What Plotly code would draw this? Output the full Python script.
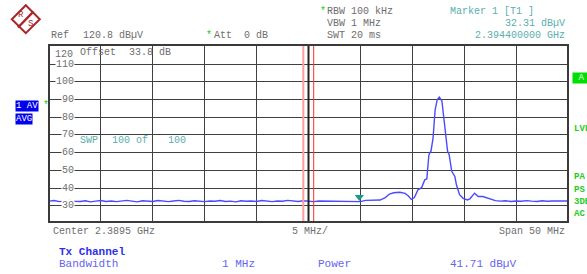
import plotly.graph_objects as go

# ---------------- data ----------------
floor_left_mhz = [2364.5, 2365.0, 2365.5, 2366.0, 2366.5, 2367.0, 2367.5, 2368.0, 2368.5, 2369.0,
                  2369.5, 2370.0, 2370.5, 2371.0, 2371.5, 2372.0, 2372.5, 2373.0, 2373.5, 2374.0,
                  2374.5, 2375.0, 2375.5, 2376.0, 2376.5, 2377.0, 2377.5, 2378.0, 2378.5, 2379.0,
                  2379.5, 2380.0, 2380.5, 2381.0, 2381.5, 2382.0, 2382.5, 2383.0, 2383.5, 2384.0,
                  2384.5, 2385.0, 2385.5, 2386.0, 2386.5, 2387.0, 2387.5, 2388.0, 2388.5, 2389.0,
                  2389.5, 2390.0, 2390.5, 2391.0, 2391.5, 2392.0, 2392.5, 2393.0, 2393.5, 2394.0,
                  2394.5, 2395.0, 2395.5, 2396.0]
floor_left_dbuv = [32.6, 32.9, 32.3, 32.7, 33.0, 32.5, 32.4, 32.8, 32.2, 32.6,
                   32.9, 32.4, 32.7, 32.3, 32.5, 33.0, 32.6, 32.2, 32.8, 32.5,
                   32.4, 32.9, 32.6, 32.3, 32.7, 33.0, 32.5, 32.4, 32.8, 32.6,
                   32.3, 32.7, 32.5, 32.9, 32.4, 32.6, 32.2, 32.8, 32.5, 32.7,
                   32.4, 32.9, 32.6, 32.3, 32.7, 32.5, 33.0, 32.6, 32.4, 32.8,
                   32.5, 32.3, 32.7, 32.6, 32.9, 32.4, 32.7, 32.5, 32.3, 32.4,
                   32.3, 33.0, 33.1, 33.2]

signal_mhz = [2396.4, 2396.9, 2397.3, 2397.7, 2398.3, 2398.8, 2399.1, 2399.4, 2399.7, 2400.05,
              2400.4, 2400.7, 2400.9, 2401.1, 2401.3, 2401.5, 2401.7, 2401.9, 2402.1, 2402.35,
              2402.6, 2402.9, 2403.05, 2403.3, 2403.6, 2403.75, 2404.05, 2404.4, 2404.8, 2405.05,
              2405.5, 2405.85, 2406.3, 2406.8, 2407.2]
signal_dbuv = [33.2, 34.6, 36.6, 37.3, 37.6, 37.0, 35.6, 33.6, 34.6, 39.0,
               40.3, 44.6, 45.2, 58.8, 60.8, 68.2, 84.2, 89.9, 91.3, 89.3,
               75.7, 60.7, 58.8, 49.4, 46.5, 41.8, 36.2, 34.2, 33.3, 33.9,
               37.1, 35.2, 35.2, 34.3, 33.3]

floor_right_mhz = [2407.5, 2408.0, 2408.5, 2409.0, 2409.5, 2410.0, 2410.5, 2411.0,
                   2411.5, 2412.0, 2412.5, 2413.0, 2413.5, 2414.0, 2414.5]
floor_right_dbuv = [32.9, 32.6, 32.8, 32.4, 32.7, 32.5, 32.9, 32.6,
                    32.4, 32.8, 32.5, 32.7, 32.6, 32.4, 32.7]

marker_mhz = [2394.4]
marker_dbuv = [32.31]

freq_start, freq_stop = 2364.5, 2414.5
ref_level, bottom_level = 120.8, 20.8
grid_freqs = [2369.5, 2374.5, 2379.5, 2384.5, 2389.5, 2394.5, 2399.5, 2404.5, 2409.5]
grid_levels = [30, 40, 50, 60, 70, 80, 90, 100, 110]
level_labels = ["30", "40", "50", "60", "70", "80", "90", "100", "110"]
channel_edges = [2389.0, 2390.0]

freq = floor_left_mhz + signal_mhz + floor_right_mhz
level = floor_left_dbuv + signal_dbuv + floor_right_dbuv

# ---------------- geometry helpers ----------------
W, H = 587, 274
L, R, T, B = 49, 568, 45, 222


def px(x):
    return (x - L) / (R - L)


def py(y):
    return (B - y) / (B - T)


MONO = "Liberation Mono"
GRAY = "#6e6e6e"
TEAL = "#5aaeae"
GREEN = "#22cc22"
BLUE1 = "#2f2fe8"
BLUE2 = "#6464f4"

fig = go.Figure()
fig.add_trace(go.Scatter(x=freq, y=level, mode="lines",
                         line=dict(color="#4a4aff", width=1.4),
                         hoverinfo="skip", showlegend=False))
fig.add_trace(go.Scatter(x=marker_mhz, y=[v + 2.6 for v in marker_dbuv], mode="markers",
                         marker=dict(symbol="triangle-down", size=8, color="#1a9a8a"),
                         hoverinfo="skip", showlegend=False))

annotations = []


def ann(x, y, text, color=GRAY, size=10, anchor="left", bg=None, yref_data=False):
    d = dict(x=px(x), y=(y if yref_data else py(y)), xref="paper",
             yref=("y" if yref_data else "paper"),
             text=text, showarrow=False, xanchor=anchor, yanchor="middle",
             font=dict(family=MONO, size=size, color=color), borderpad=0)
    if bg:
        d["bgcolor"] = bg
    annotations.append(d)


# top header
ann(50, 35.5, "Ref")
ann(82, 35.5, "120.8 dBµV")
ann(205, 35, "*", color=GREEN)
ann(213, 35.5, "Att")
ann(243, 35.5, "0 dB")
ann(319, 11, "*", color=GREEN)
ann(326, 11.3, "RBW 100 kHz")
ann(326, 23.7, "VBW 1 MHz")
ann(326, 35.7, "SWT 20 ms")
ann(449, 11.3, "Marker 1 [T1 ]", color=TEAL)
ann(566, 23.7, "32.31 dBµV", color=TEAL, anchor="right")
ann(566, 35.7, "2.394400000 GHz", color=TEAL, anchor="right")

# inside plot
ann(74, 54.5, "120", anchor="right")
ann(79, 52.7, "Offset")
ann(128, 52.7, "33.8 dB")
ann(79, 140.7, "SWP", color=TEAL)
ann(111, 140.7, "100 of", color=TEAL)
ann(167, 140.7, "100", color=TEAL)
for v, t in zip(grid_levels, level_labels):
    ann(75, v, t, anchor="right", bg="white", yref_data=True)

# left side boxes
ann(14.5, 105.7, "1 AV", color="white", size=9, bg="#0000ee")
ann(14.5, 119, "AVG", color="white", size=9, bg="#0000ee")
ann(42, 105, "*", color=GREEN)

# right side labels
ann(572, 77.5, " A ", color="white", size=9, bg="#00e000")
ann(573, 129, "<b>LVL</b>", color=GREEN, size=9)
ann(573, 176.7, "<b>PA</b>", color=GREEN, size=9)
ann(573, 190, "<b>PS</b>", color=GREEN, size=9)
ann(573, 202.3, "<b>3DB</b>", color=GREEN, size=9)
ann(573, 214, "<b>AC</b>", color=GREEN, size=9)

# bottom
ann(52, 231.7, "Center 2.3895 GHz")
ann(291, 231.7, "5 MHz/")
ann(566, 231.7, "Span 50 MHz", anchor="right")
ann(57.7, 251.7, "<b>Tx Channel</b>", color=BLUE1, size=11)
ann(57.7, 264.3, "Bandwidth", color=BLUE2, size=11)
ann(256, 264.3, "1 MHz", color=BLUE2, size=11, anchor="right")
ann(316.7, 264.3, "Power", color=BLUE2, size=11)
ann(449.3, 264.3, "41.71 dBµV", color=BLUE2, size=11)

# logo letters
ann(21, 15, "R", color="#a8262a", size=9, anchor="center")
ann(30.5, 24, "S", color="#a8262a", size=9, anchor="center")

shapes = []
# center gridline heavier
shapes.append(dict(type="line", xref="x", yref="paper", x0=2389.5, x1=2389.5, y0=0, y1=1,
                   line=dict(color="#222222", width=2)))
# channel edges
shapes.append(dict(type="line", xref="x", yref="paper", x0=channel_edges[0], x1=channel_edges[0],
                   y0=0, y1=1, line=dict(color="#ff9c9c", width=2)))
shapes.append(dict(type="line", xref="x", yref="paper", x0=channel_edges[1], x1=channel_edges[1],
                   y0=0, y1=1, line=dict(color="#ff2a2a", width=1)))
# frame
shapes.append(dict(type="rect", xref="paper", yref="paper", x0=0, x1=1, y0=0, y1=1,
                   line=dict(color="#3a3a3a", width=2)))
# logo diamond
cx, cy, hw = 25.8, 19.2, 14
path = "M {} {} L {} {} L {} {} L {} {} Z".format(
    px(cx), py(cy - hw), px(cx + hw), py(cy), px(cx), py(cy + hw), px(cx - hw), py(cy))
shapes.append(dict(type="path", xref="paper", yref="paper", path=path,
                   line=dict(color="#a8262a", width=2), fillcolor="white"))
shapes.append(dict(type="line", xref="paper", yref="paper", x0=px(18), y0=py(27.5),
                   x1=px(33.5), y1=py(11.5), line=dict(color="#a8262a", width=2.5)))

fig.update_layout(
    width=W, height=H,
    margin=dict(l=L, r=W - R, t=T, b=H - B, pad=0),
    paper_bgcolor="white", plot_bgcolor="white",
    showlegend=False,
    xaxis=dict(range=[freq_start, freq_stop], tickvals=grid_freqs, showticklabels=False,
               ticks="", showgrid=True, gridcolor="#404040", gridwidth=1,
               zeroline=False, showline=False, fixedrange=True),
    yaxis=dict(range=[bottom_level, ref_level], tickvals=grid_levels, showticklabels=False,
               ticks="", showgrid=True, gridcolor="#404040", gridwidth=1,
               zeroline=False, showline=False, fixedrange=True),
    annotations=annotations,
    shapes=shapes,
)

fig.write_html("out.html", config={"displayModeBar": False},
               post_script="document.body.style.margin='0';document.body.style.padding='0';"
                           "document.documentElement.style.overflow='hidden';")
